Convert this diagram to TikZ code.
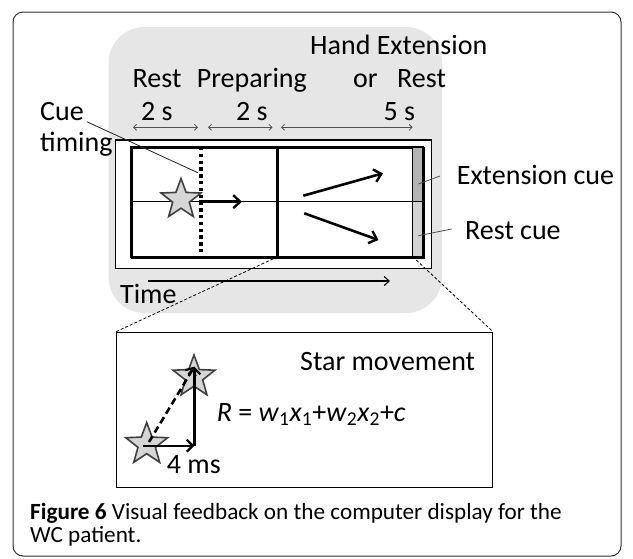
\documentclass[tikz,border=0pt]{standalone}
\usepackage{fontspec}
\setmainfont{Carlito}
\usetikzlibrary{arrows.meta,shapes.geometric}
\definecolor{bggray}{HTML}{E6E6E6}
\definecolor{starfill}{HTML}{D6D6D6}
\definecolor{stardraw}{HTML}{404040}
\definecolor{cuedark}{HTML}{B4B4B4}
\definecolor{cuelight}{HTML}{D2D2D2}
\definecolor{dimgray}{HTML}{505050}
\begin{document}
\begin{tikzpicture}[x=1pt,y=-1pt,
  lbl/.style={anchor=base west, inner sep=0pt, font=\fontsize{28}{32}\selectfont},
  captxt/.style={anchor=base west, inner sep=0pt, font=\fontsize{23.2}{24}\selectfont},
  starnode/.style={star, star points=5, star point ratio=2.4, minimum size=42pt, inner sep=0pt,
    fill=starfill, draw=stardraw, line width=1.6pt},
  bigarrow/.style={line width=2.6pt, -{Straight Barb[length=7pt,width=13pt,line width=2.4pt]}},
  dimarrow/.style={draw=dimgray, line width=0.8pt, {Straight Barb[length=3pt,width=6pt]}-{Straight Barb[length=3pt,width=6pt]}},
  leader/.style={draw=dimgray, line width=0.8pt},
  zoomline/.style={line width=0.8pt, dashed, dash pattern=on 3pt off 2pt}
]
\useasboundingbox (0,0) rectangle (633,558);
% outer frame
\draw[draw=black!80, line width=1pt, rounded corners=10pt] (13,12) rectangle (621,556);
% gray panel
\fill[bggray, rounded corners=36pt] (108.5,27) rectangle (442,313);
% screen
\node[draw, line width=1.3pt, fill=white, inner sep=0pt, minimum width=316pt, minimum height=128.7pt, anchor=north west] (screen) at (115,139.3) {};
\node[draw, line width=2pt, inner sep=0pt, minimum width=292pt, minimum height=110pt, anchor=north west] (inner) at (130.7,146.7) {};
% cue bar
\fill[cuedark] (412.7,146.7) rectangle (422.7,201.7);
\fill[cuelight] (412.7,201.7) rectangle (422.7,256.7);
\draw[line width=0.6pt] (130.7,201.7) -- (412.7,201.7);
\draw[line width=1.4pt] (412.7,146.7) rectangle (422.7,256.7);
\draw[line width=1.4pt] (412.7,201.7) -- (422.7,201.7);
\draw[line width=2pt] (130.7,146.7) rectangle (422.7,256.7);
\coordinate (cuebot) at (412.7,256.7);
\coordinate (cueext) at (418.3,184);
\coordinate (cuerest) at (418.3,235.7);
% dotted cue line
\coordinate (dottop) at (201,147);
\coordinate (dotbot) at (201,256);
\draw[line width=3.2pt, dash pattern=on 3.4pt off 3.4pt] (dottop) -- (dotbot);
% solid divider
\coordinate (soltop) at (277.7,146.7);
\coordinate (solbot) at (277.7,256.7);
\draw[line width=2.6pt] (soltop) -- (solbot);
% star and arrows in screen
\node[starnode, minimum size=42pt] (star1) at (181,199.5) {};
\coordinate (a1s) at (199,201.7);
\coordinate (a1e) at (242,201.7);
\draw[bigarrow] (a1s) -- (a1e);
\coordinate (a2s) at (303.3,195.7);
\coordinate (a2e) at (383,173.3);
\draw[bigarrow] (a2s) -- (a2e);
\coordinate (a3s) at (304.3,213.3);
\coordinate (a3e) at (378.5,240);
\draw[bigarrow] (a3s) -- (a3e);
% time arrow
\coordinate (ts) at (148.3,281);
\coordinate (te) at (390,281);
\draw[line width=1.2pt, -{Straight Barb[length=5pt,width=9pt,line width=1.1pt]}] (ts) -- (te);
\node[lbl] (time) at (120,303) {Time};
% header labels
\node[lbl] (hand) at (310,54) {Hand Extension};
\node[lbl] (rest1) at (132.5,87.3) {Rest};
\node[lbl] (prep) at (196.6,87.3) {Preparing};
\node[lbl] (or) at (353,87.3) {or};
\node[lbl] (rest2) at (397,87.3) {Rest};
\node[lbl] (s1) at (141,120.3) {2 s};
\node[lbl] (s2) at (236,120.3) {2 s};
\node[lbl] (s3) at (383.5,120.3) {5 s};
% dimension arrows
\coordinate (d1a) at (133,127.3); \coordinate (d1b) at (198,127.3);
\coordinate (d2a) at (208,127.3); \coordinate (d2b) at (272.5,127.3);
\coordinate (d3a) at (281,127.3); \coordinate (d3b) at (412.6,127.3);
\draw[dimarrow] (d1a) -- (d1b);
\draw[dimarrow] (d2a) -- (d2b);
\draw[dimarrow] (d3a) -- (d3b);
% cue timing
\node[lbl] (cue) at (40,120.3) {Cue};
\node[lbl] (timing) at (40,151.8) {timing};
\coordinate (cl1) at (86.8,121.7);
\coordinate (cl2) at (197.8,172.7);
\draw[leader, draw=black!85] (cl1) -- (cl2);
% right labels
\node[lbl] (extcue) at (456.7,184) {Extension cue};
\node[lbl] (restcue) at (465,239.3) {Rest cue};
\coordinate (el) at (440,176);
\coordinate (rl) at (451.7,229);
\draw[leader] (el) -- (cueext);
\draw[leader] (rl) -- (cuerest);
% lower box
\node[draw, line width=1.3pt, inner sep=0pt, minimum width=375.7pt, minimum height=155pt, anchor=north west] (box) at (116,331.7) {};
\draw[zoomline] (solbot) -- (box.north west);
\draw[zoomline] (cuebot) -- (box.north east);
\node[lbl] (starmov) at (300,370) {Star movement};
\node[starnode, minimum size=44pt] (star2) at (194,377) {};
\node[starnode, minimum size=44pt] (star3) at (146.7,444.5) {};
\coordinate (h1) at (143.3,445.7);
\coordinate (h2) at (194.3,445.7);
\coordinate (v2) at (194.3,366.7);
\coordinate (g1) at (149,442);
\draw[line width=2.4pt, -{Straight Barb[length=6pt,width=12pt,line width=2.2pt]}] (h1) -- (h2);
\draw[line width=2.4pt, -{Straight Barb[length=6pt,width=12pt,line width=2.2pt]}] (h2) -- (v2);
\draw[line width=2.6pt, dash pattern=on 7pt off 4pt, -{Straight Barb[length=6pt,width=12pt,line width=2.2pt]}] (g1) -- (v2);
\node[lbl] (formula) at (216.7,421.7) {\textit{R} = \textit{w}\textsubscript{1}\textit{x}\textsubscript{1}+\textit{w}\textsubscript{2}\textit{x}\textsubscript{2}+\textit{c}};
\node[lbl] (ms) at (166.7,473.3) {4 ms};
% caption
\node[captxt] (caption1) at (30,519.5) {\textbf{Figure 6} Visual feedback on the computer display for the};
\node[captxt] (caption2) at (30,542.5) {WC patient.};
\end{tikzpicture}
\end{document}
